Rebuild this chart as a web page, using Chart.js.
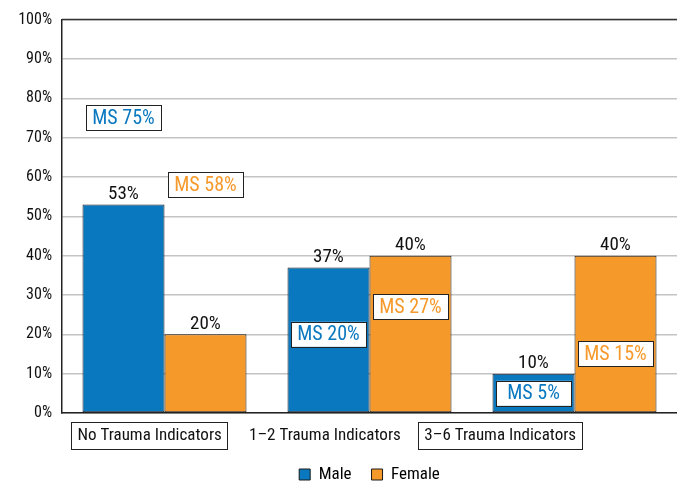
<!DOCTYPE html>
<html>
<head>
<meta charset="utf-8">
<script src="https://cdn.jsdelivr.net/npm/chart.js@4/dist/chart.umd.min.js"></script>
<style>
  html, body { margin: 0; padding: 0; background: #fff; }
  #wrap { width: 677px; height: 483px; position: relative; }
</style>
</head>
<body>
<div id="wrap"><canvas id="traumaChart"></canvas></div>
<script>
// dữ liệu
const categories = ['No Trauma Indicators', '1\u20132 Trauma Indicators', '3\u20136 Trauma Indicators'];
const maleValues = [53, 37, 10];
const femaleValues = [20, 40, 40];
const maleMS = [75, 20, 5];
const femaleMS = [58, 27, 15];
const boxedCategory = [true, false, true];

const FONT = '"Roboto Condensed", "Liberation Sans Narrow", sans-serif';
const BLUE = '#0a78bf';
const ORANGE = '#f6992b';
const INK = '#111';

// nhãn giá trị, hộp MS, nhãn nhóm
const annotate = {
    id: 'annotate',
    afterDatasetsDraw(chart) {
        const ctx = chart.ctx;
        const y = chart.scales.y;
        const area = chart.chartArea;
        ctx.save();
        ctx.textAlign = 'center';

        chart.data.datasets.forEach((ds, di) => {
            const meta = chart.getDatasetMeta(di);
            const ms = di === 0 ? maleMS : femaleMS;
            const col = di === 0 ? BLUE : ORANGE;
            meta.data.forEach((bar, i) => {
                // nhãn trên cột
                ctx.fillStyle = INK;
                ctx.font = '19px ' + FONT;
                ctx.textBaseline = 'bottom';
                ctx.fillText(ds.data[i] + '%', bar.x, bar.y - 1);
                // hộp MS
                const cy = y.getPixelForValue(ms[i]);
                const bw = 75, bh = 25;
                ctx.fillStyle = '#fff';
                ctx.fillRect(bar.x - bw / 2, cy - bh / 2, bw, bh);
                ctx.strokeStyle = '#222';
                ctx.lineWidth = 1;
                ctx.strokeRect(Math.round(bar.x - bw / 2) + 0.5, Math.round(cy - bh / 2) + 0.5, bw, bh);
                ctx.fillStyle = col;
                ctx.font = '20px ' + FONT;
                ctx.textBaseline = 'middle';
                ctx.fillText('MS ' + ms[i] + '%', bar.x, cy + 1);
            });
        });

        // nhãn nhóm bên dưới trục
        const w = area.right - area.left;
        categories.forEach((c, i) => {
            const cx = area.left + w * 0.285 * (i + 0.5);
            const cy = area.bottom + 23;
            ctx.font = '17px ' + FONT;
            ctx.fillStyle = INK;
            ctx.textBaseline = 'middle';
            ctx.fillText(c, cx, cy);
            if (boxedCategory[i]) {
                const tw = ctx.measureText(c).width + 12;
                ctx.strokeStyle = '#222';
                ctx.lineWidth = 1;
                ctx.strokeRect(Math.round(cx - tw / 2) + 0.5, Math.round(cy - 14) + 0.5, Math.round(tw), 27);
            }
        });

        // viền trên
        ctx.strokeStyle = '#333';
        ctx.lineWidth = 1.5;
        ctx.beginPath();
        ctx.moveTo(area.left, area.top);
        ctx.lineTo(area.right, area.top);
        ctx.stroke();
        ctx.restore();
    }
};

new Chart(document.getElementById('traumaChart'), {
    type: 'bar',
    data: {
        labels: categories,
        datasets: [
            {
                label: 'Male',
                data: maleValues,
                backgroundColor: BLUE,
                borderColor: '#1a1a1a',
                borderWidth: 1,
                borderSkipped: false,
                categoryPercentage: 0.8,
                barPercentage: 1.0
            },
            {
                label: 'Female',
                data: femaleValues,
                backgroundColor: ORANGE,
                borderColor: '#1a1a1a',
                borderWidth: 1,
                borderSkipped: false,
                categoryPercentage: 0.8,
                barPercentage: 1.0
            }
        ]
    },
    options: {
        responsive: true,
        maintainAspectRatio: false,
        animation: false,
        layout: { padding: { top: 16, right: 0, left: 0, bottom: -10 } },
        scales: {
            x: {
                grid: { display: false },
                border: { color: '#222', width: 1.5 },
                ticks: { display: false },
                afterFit: s => { s.height = 33; }
            },
            y: {
                min: 0,
                max: 100,
                ticks: {
                    stepSize: 10,
                    padding: 10,
                    color: INK,
                    font: { family: FONT, size: 16 },
                    callback: v => v + '%'
                },
                grid: { color: '#c4c4c4', lineWidth: 1.5, drawTicks: true, tickLength: 0 },
                border: { color: '#222', width: 1.5 },
                afterFit: s => { s.width = 62; }
            }
        },
        plugins: {
            legend: {
                position: 'bottom',
                fullSize: false,
                labels: {
                    boxWidth: 11,
                    boxHeight: 11,
                    padding: 20,
                    color: INK,
                    font: { family: FONT, size: 17 },
                    generateLabels: chart => chart.data.datasets.map((ds, i) => ({
                        text: ds.label,
                        fillStyle: ds.backgroundColor,
                        strokeStyle: '#1a1a1a',
                        lineWidth: 1,
                        datasetIndex: i
                    }))
                }
            },
            tooltip: { enabled: false }
        }
    },
    plugins: [annotate]
});
</script>
</body>
</html>
